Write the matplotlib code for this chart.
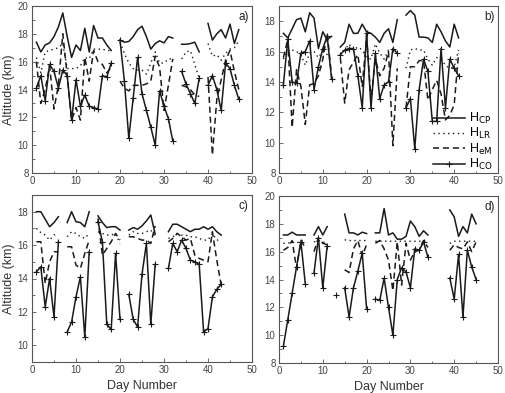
import numpy as np
import matplotlib
matplotlib.use("Agg")
import matplotlib.pyplot as plt
from matplotlib.ticker import MultipleLocator

plt.rcParams['font.family'] = ['Liberation Sans', 'DejaVu Sans']

N = np.nan

# ---------- panel a ----------
days_a = np.arange(1, 48)
cp_a = [17.4,16.7,17.2,17.35,17.8,18.5,19.5,17.8,16.3,17.2,16.8,18.4,16.7,18.6,17.7,17.7,17.2,16.8, N,
        17.55,17.4,17.45,17.8,18.3,18.55,17.8,16.9,17.3,17.5,17.35,17.8,17.7, N,
        17.25,17.25,17.3,17.4,16.7, N,
        18.75,17.55,18.0,18.3,17.7,18.7,17.3,18.3]
lr_a = [16.3,15.2,16.7,16.8,16.9,17.0,17.3,15.5,15.5,15.5,15.7,16.3,16.2,16.9,16.9,16.9,16.8,16.8, N,
        17.4,16.6,15.9,15.5,15.4,15.4,15.1,15.9,16.7,15.9,15.9,16.2,16.2, N,
        16.2,16.7,16.8,15.8,14.8, N,
        17.3,16.4,16.5,16.1,16.6,16.9,17.0,17.5]
em_a = [16.0,13.0,14.0,15.7,12.6,14.3,18.0,15.0,11.8,12.7,11.8,16.3,14.6,16.8,16.0,15.8,15.2,15.6, N,
        14.6,14.1,13.9,14.3,14.3,14.3,14.4,14.6,16.4,15.6,12.5,14.3,16.2, N,
        14.3,14.2,14.0,13.6,13.5, N,
        14.9,9.3,13.3,14.7,16.1,16.8,15.3,14.0]
co_a = [14.1,15.0,13.2,15.8,15.3,14.1,15.4,15.0,11.8,14.7,12.8,13.6,12.8,12.7,12.6,15.0,14.9,15.9, N,
        17.55,14.6,10.5,13.4,16.3,13.7,12.5,11.3,10.0,13.9,12.8,11.9,10.3, N,
        15.3,14.4,13.7,13.0,14.8, N,
        14.3,15.0,14.0,12.5,15.9,15.5,14.3,13.3]

# ---------- panel b ----------
days_b = np.arange(1, 42)
cp_b = [17.2,16.9,17.5,18.1,18.2,17.3,18.55,18.2,16.2,17.3,16.8,17.0, N,
        16.3,16.6,17.8,17.2,17.2,17.8,17.3,17.2,16.95,16.6,17.2,17.5,16.6,18.1, N,
        18.4,18.7,18.4,16.95,16.95,16.9,16.6,17.8,17.3,16.7,16.3,17.8,16.9]
lr_b = [15.5,16.1,16.1,16.0,15.8,15.1,15.9,16.0,15.6,16.0,15.8,15.3, N,
        15.8,16.1,16.5,16.1,16.3,16.1,15.6,15.5,16.5,15.9,15.5,16.1,16.1,15.9, N,
        14.9,16.1,16.2,16.1,16.1,15.5,15.1,15.6,15.5,15.1,14.9,15.0,16.1]
em_b = [15.6,16.8,11.0,14.8,13.7,11.2,13.8,13.9,14.4,15.5,17.2,14.4, N,
        15.6,12.6,14.8,15.3,15.8,13.7,17.0,12.8,15.5,14.4,14.9,16.0,9.8,14.9, N,
        12.3,15.0,15.0,15.4,15.4,12.8,13.5,14.1,13.2,11.5,11.8,12.5,15.9]
co_b = [13.8,16.8,14.0,13.9,15.9,16.0,16.7,13.5,15.0,16.2,17.0,14.2, N,
        15.8,16.1,16.2,16.2,14.4,12.3,17.2,12.3,15.9,12.9,13.8,14.0,16.2,15.9, N,
        12.3,12.9,9.6,13.5,15.5,14.7,11.4,11.4,16.2,12.3,15.5,14.9,14.4]

# ---------- panel c ----------
days_c = np.arange(1, 44)
cp_c = [18.0,18.0,17.55,17.1,17.35,17.7, N, 17.35,18.0,17.4,17.35,17.1,18.0, N,
        17.75,17.35,17.05,17.1,17.1,16.9, N, 16.9,17.05,16.95,17.15,17.45,17.8,16.65, N, N,
        16.8,17.25,17.25,17.1,16.95,16.8,16.95,16.95,17.1,16.95,17.1,16.8,16.6]
lr_c = [17.0,16.75,16.6,16.3,16.6,16.7, N, 16.5,16.8,16.7,16.5,16.4,16.7, N,
        16.8,16.7,16.6,16.6,16.7,16.1, N, 16.6,16.8,16.7,16.7,16.8,16.9,16.5, N, N,
        16.4,16.5,16.7,16.6,16.6,16.5,16.5,16.4,16.3,16.3,16.7,16.3,16.3]
em_c = [16.2,16.2,13.7,15.0,15.6,15.6, N, 15.9,15.9,14.8,14.6,15.5,16.3, N,
        17.6,15.4,15.8,16.2,16.7,16.3, N, 16.5,16.5,16.4,16.3,16.3,16.1,17.15, N, N,
        16.2,16.4,16.7,16.5,16.3,16.4,15.4,15.2,15.1,15.0,16.8,15.1,13.6]
co_c = [14.4,14.7,12.3,14.0,11.7,16.2, N, 10.8,11.4,12.9,14.1,10.5,15.6, N,
        17.4,16.2,11.25,10.95,15.5,11.55, N, 13.05,11.55,11.1,14.25,16.1,11.25,14.85, N, N,
        14.6,16.1,15.6,16.3,15.8,15.1,15.0,14.85,10.8,11.0,12.9,13.35,13.65]

# ---------- panel d ----------
days_d = np.arange(1, 46)
cp_d = [17.2,17.2,17.4,17.2,17.2,17.2, N, 17.2,17.8,17.2,17.8, N, N, N,
        18.7,17.35,17.35,17.2,17.4,17.3, N,
        17.35,17.35,19.1,17.2,17.35,16.9,16.9,17.1,18.2,17.8,17.1,17.5,17.2, N, N, N, N,
        19.0,18.5,17.1,17.8,17.35,18.7,18.0]
lr_d = [16.6,16.6,16.7,16.6,16.8,16.7, N, 16.7,16.8,16.7,16.6, N, N, N,
        16.85,16.8,16.8,16.8,16.8,16.8, N,
        16.75,16.75,16.75,16.75,16.75,16.75,16.75,16.75,16.75,16.75,16.75,16.75,16.75, N, N, N, N,
        16.6,16.75,16.75,16.75,16.75,16.75,16.75]
em_d = [16.1,16.3,16.8,14.8,16.8,16.3, N, 16.0,17.0,16.6,16.5, N, N, N,
        14.7,14.5,16.2,16.8,15.7,16.5, N,
        16.6,16.8,16.2,15.4,13.2,16.7,13.6,16.6,15.4,16.0,16.1,16.8,16.3, N, N, N, N,
        16.1,16.5,16.3,16.2,16.7,16.0,16.7]
co_d = [9.2,11.1,13.0,14.9,16.7,13.7, N, 14.5,17.0,13.4,16.4, N, 12.9, N,
        13.4,11.3,13.4,14.6,15.9,11.9, N,
        12.6,12.5,14.1,12.0,10.0,14.0,14.85,14.55,13.4,16.2,16.1,16.7,15.6, N, N, N, N,
        14.1,12.6,15.8,11.3,16.1,14.9,14.0]

labels = [r"H$_{\rm CP}$", r"H$_{\rm LR}$", r"H$_{\rm eM}$", r"H$_{\rm CO}$"]

W, H = 506, 393
fig = plt.figure(figsize=(W / 100, H / 100), dpi=100)

def fr(l, t, r, b):
    return [l / W, 1 - b / H, (r - l) / W, (b - t) / H]

ax_a = fig.add_axes(fr(32, 6, 252, 173))
ax_b = fig.add_axes(fr(279, 6, 498, 173))
ax_c = fig.add_axes(fr(32, 195, 252, 362))
ax_d = fig.add_axes(fr(279, 196, 498, 363))

panels = [
    (ax_a, days_a, cp_a, lr_a, em_a, co_a, (8, 20), "a)"),
    (ax_b, days_b, cp_b, lr_b, em_b, co_b, (8, 19), "b)"),
    (ax_c, days_c, cp_c, lr_c, em_c, co_c, (9, 19), "c)"),
    (ax_d, days_d, cp_d, lr_d, em_d, co_d, (8, 20), "d)"),
]

lc = "#1a1a1a"
for ax, d, cp, lr, em, co, yl, tag in panels:
    l1, = ax.plot(d, cp, color=lc, lw=1.1, ls='-')
    l2, = ax.plot(d, lr, color=lc, lw=1.0, ls=(0, (1, 2.5)))
    l3, = ax.plot(d, em, color=lc, lw=1.1, ls=(0, (4, 2.5)))
    l4, = ax.plot(d, co, color=lc, lw=1.1, ls='-', marker='+', ms=4, mew=0.8)
    ax.set_xlim(0, 50)
    ax.set_ylim(*yl)
    ax.xaxis.set_major_locator(MultipleLocator(10))
    ax.xaxis.set_minor_locator(MultipleLocator(5))
    ax.yaxis.set_major_locator(MultipleLocator(2))
    ax.yaxis.set_minor_locator(MultipleLocator(1))
    ax.tick_params(which='both', direction='in', colors='#555555', labelcolor='#444444',
                   labelsize=7, width=0.6, pad=2.5)
    ax.tick_params(which='major', length=3)
    ax.tick_params(which='minor', length=1.8)
    for s in ax.spines.values():
        s.set_color('#555555')
        s.set_linewidth(0.8)
    ax.text(0.985, 0.97, tag, transform=ax.transAxes, ha='right', va='top',
            fontsize=8.5, color='#222222')
    handles = (l1, l2, l3, l4)

for ax in (ax_a, ax_c):
    ax.set_ylabel("Altitude (km)", fontsize=9, color='#333333')
    ax.yaxis.set_label_coords(-0.077, 0.5)
for ax in (ax_c, ax_d):
    ax.set_xlabel("Day Number", fontsize=9, color='#333333', labelpad=3)

ax_b.legend(handles, labels, loc='lower right', bbox_to_anchor=(1.01, -0.04),
            frameon=False, fontsize=9, handlelength=2.6, handletextpad=0.3,
            labelspacing=0.02, borderaxespad=0.2)

fig.savefig("out.png", dpi=100)
